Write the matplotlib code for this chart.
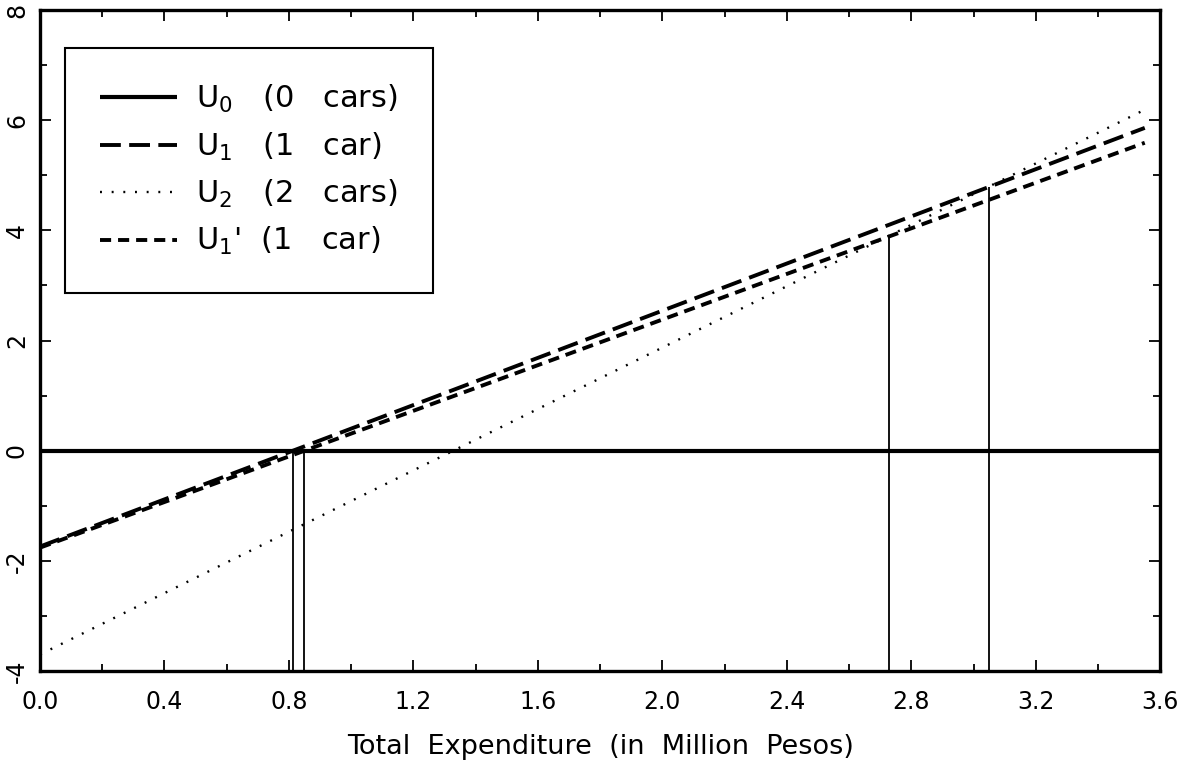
import numpy as np
import matplotlib
matplotlib.use('Agg')
import matplotlib.pyplot as plt
from matplotlib.ticker import MultipleLocator

# グラフの基本フォント
plt.rcParams['font.family'] = 'DejaVu Sans'
plt.rcParams['mathtext.fontset'] = 'dejavusans'
plt.rcParams['lines.scale_dashes'] = False
plt.rcParams['axes.unicode_minus'] = False

# データ
expenditure = [0.0, 3.55]          # million pesos
u0_x = [0.0, 3.6]
u0 = [0.0, 0.0]
u1 = [-1.74, 5.86]
u2 = [-3.70, 6.19]
u1p = [-1.76, 5.59]

# 交点の位置と高さ
cross_x = [0.813, 0.849, 2.727, 3.05]
cross_top = [0.0, 0.0, 3.89, 4.79]

labels = ['U$_0$   (0   cars)', 'U$_1$   (1   car)', 'U$_2$   (2   cars)', "U$_1$'  (1   car)"]

fig = plt.figure(figsize=(11.84, 7.69), dpi=100)
ax = fig.add_axes([0.0338, 0.1274, 0.9462, 0.8596])

ax.plot(u0_x, u0, color='k', lw=3.0, solid_capstyle='butt', label=labels[0])
ax.plot(expenditure, u1, color='k', lw=2.8, ls=(0, (15, 6)), dash_capstyle='butt', label=labels[1])
ax.plot(expenditure, u2, color='k', lw=1.7, ls=(0, (1.4, 7)), label=labels[2])
ax.plot(expenditure, u1p, color='k', lw=2.8, ls=(0, (8, 5)), dash_capstyle='butt', label=labels[3])

# 交点からの縦線
ax.vlines(cross_x, -4, cross_top, color='k', lw=1.3)

ax.set_xlim(0, 3.6)
ax.set_ylim(-4, 8)

ax.xaxis.set_minor_locator(MultipleLocator(0.2))
ax.yaxis.set_major_locator(MultipleLocator(2))
ax.yaxis.set_minor_locator(MultipleLocator(1))
ax.set_xticks(np.arange(0, 3.61, 0.4))
ax.set_xticklabels(['%.1f' % v for v in np.arange(0, 3.61, 0.4)])

ax.tick_params(which='both', direction='in', top=True, right=True, width=1.3)
ax.tick_params(which='major', length=8, labelsize=17)
ax.tick_params(which='minor', length=5)
ax.tick_params(axis='x', pad=14)
ax.tick_params(axis='y', pad=8)
for lab in ax.get_yticklabels():
    lab.set_rotation(90)
    lab.set_va('center')

for s in ax.spines.values():
    s.set_linewidth(2.4)

ax.set_xlabel('Total  Expenditure  (in  Million  Pesos)', fontsize=19.5, labelpad=14)

leg = ax.legend(loc='upper left', bbox_to_anchor=(0.0223, 0.9425), borderaxespad=0,
                fontsize=22, handlelength=2.5, handletextpad=0.65, labelspacing=0.5,
                borderpad=1.15, fancybox=False, framealpha=1)
leg.get_frame().set_edgecolor('k')
leg.get_frame().set_linewidth(1.5)

fig.savefig('out.png', dpi=100)
